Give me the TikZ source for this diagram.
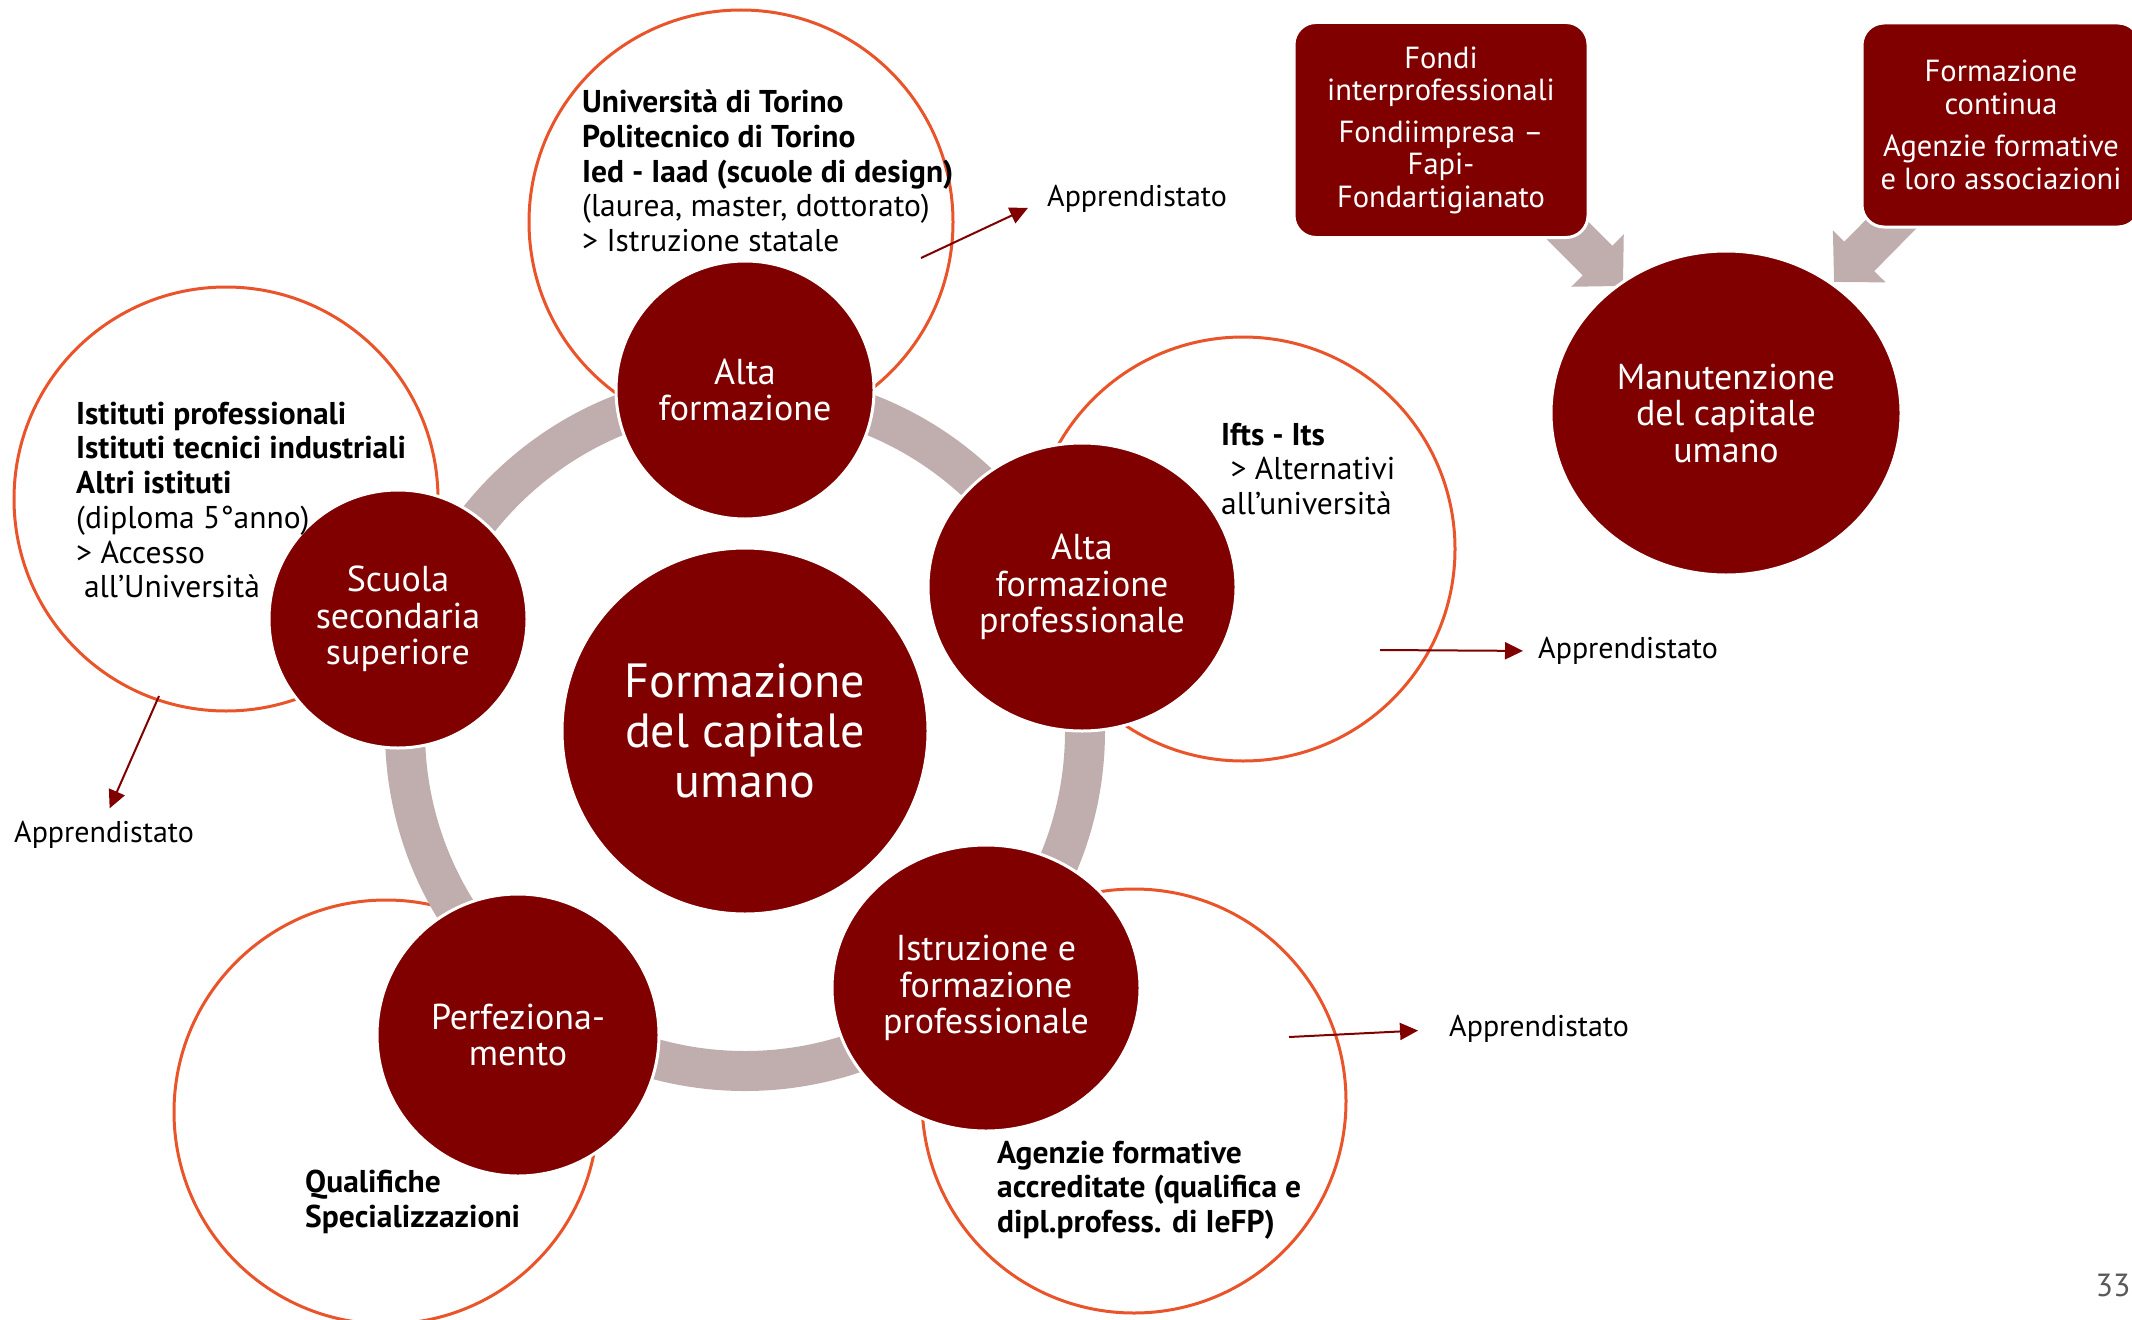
\documentclass[tikz,border=0pt]{standalone}
\usepackage{fontspec}
\setmainfont{PT Sans}
\usetikzlibrary{arrows.meta,shapes.geometric}
\definecolor{capred}{RGB}{128,0,0}
\definecolor{capgray}{RGB}{192,173,173}
\definecolor{caporange}{RGB}{233,84,42}
\tikzset{
  capdisc/.style={ellipse, fill=capred, draw=white, line width=3pt, text=white, align=center, inner sep=0pt, font=\fontsize{36}{36.5}\selectfont},
  caphalo/.style={circle, draw=caporange, line width=3pt, fill=white, inner sep=0pt, minimum size=424pt},
  capring/.style={circle, draw=capgray, line width=40pt, inner sep=0pt, minimum size=680pt},
  capbox/.style={draw=white, fill=capred, line width=3pt, rounded corners=22pt, text=white, align=center, inner sep=0pt, font=\fontsize{30.5}{32.5}\selectfont},
  capflow/.style={capgray, line width=42pt, -{Triangle[length=36pt,width=72pt]}},
  caplink/.style={capred, line width=2pt, -{Triangle[length=18pt,width=17pt]}},
  capnote/.style={anchor=west, align=left, inner sep=0pt, font=\fontsize{31.5}{34.7}\selectfont}
}

\begin{document}
\begin{tikzpicture}[x=1pt,y=-1pt]
  \useasboundingbox (0,0) rectangle (2132,1319);
  \node[caphalo] (haloA) at (741,222) {};
  \node[caphalo] (haloS) at (226,499) {};
  \node[caphalo] (haloP) at (1243,549) {};
  \node[caphalo] (haloI) at (1134,1101) {};
  \node[caphalo] (haloF) at (386,1112) {};
  \node[capring] (ring) at (745,731) {};
  \coordinate (flowAs) at (1540,203);
  \coordinate (flowAe) at (1623,286);
  \coordinate (flowBs) at (1905,210);
  \coordinate (flowBe) at (1834,282);
  \draw[capflow] (flowAs) -- (flowAe);
  \draw[capflow] (flowBs) -- (flowBe);
  \node[capbox, minimum width=294pt, minimum height=215pt] (fondi) at (1441,130)
    {Fondi\\interprofessionali\\[9pt]Fondiimpresa –\\Fapi-\\Fondartigianato};
  \node[capbox, minimum width=278pt, minimum height=204pt] (contin) at (2001,125)
    {Formazione\\continua\\[10pt]Agenzie formative\\e loro associazioni};
  \node[capdisc, minimum width=350pt, minimum height=324pt] (manut) at (1726,413) {Manutenzione\\del capitale\\umano};
  \node[capdisc, minimum size=366pt, font=\fontsize{48}{50}\selectfont] (hub) at (745,731) {Formazione\\del capitale\\umano};
  \node[capdisc, minimum size=258pt] (alta) at (745,390) {Alta\\formazione};
  \node[capdisc, minimum width=308pt, minimum height=288pt] (altaprof) at (1082,587) {Alta\\formazione\\professionale};
  \node[capdisc, minimum width=308pt, minimum height=286pt] (iefp) at (986,988) {Istruzione e\\formazione\\professionale};
  \node[capdisc, minimum size=282pt] (perf) at (518,1035) {Perfeziona-\\mento};
  \node[capdisc, minimum size=258pt] (scuola) at (398,619) {Scuola\\secondaria\\superiore};
  \node[capnote] (noteA) at (582,171) {\textbf{Università di Torino}\\\textbf{Politecnico di Torino}\\\textbf{Ied - Iaad (scuole di design)}\\(laurea, master, dottorato)\\> Istruzione statale};
  \node[capnote] (noteS) at (76,500) {\textbf{Istituti professionali}\\\textbf{Istituti tecnici industriali}\\\textbf{Altri istituti}\\(diploma 5°anno)\\> Accesso\\\hspace*{0.25em}all’Università};
  \node[capnote] (noteP) at (1221,469) {\textbf{Ifts - Its}\\\hspace*{0.3em}> Alternativi\\all’università};
  \node[capnote, font=\fontsize{31.5}{34.7}\selectfont\bfseries] (noteI) at (997,1190) {Agenzie formative\\accreditate (qualifica e\\dipl.profess. di IeFP)};
  \node[capnote, font=\fontsize{31.5}{34.7}\selectfont\bfseries] (noteF) at (305,1202) {Qualifiche\\Specializzazioni};
  \node[capnote, font=\fontsize{30}{34.7}\selectfont] (appA) at (1047,199) {Apprendistato};
  \node[capnote, font=\fontsize{30}{34.7}\selectfont] (appB) at (1538,651) {Apprendistato};
  \node[capnote, font=\fontsize{30}{34.7}\selectfont] (appC) at (1449,1029) {Apprendistato};
  \node[capnote, font=\fontsize{30}{34.7}\selectfont] (appD) at (14,835) {Apprendistato};
  \coordinate (linkA) at (921,258);
  \coordinate (linkB) at (1380,650);
  \coordinate (linkC) at (1289,1037);
  \coordinate (linkD) at (159,696);
  \draw[caplink, shorten >=21pt] (linkA) -- (appA.west);
  \draw[caplink, shorten >=15pt] (linkB) -- (appB.west);
  \draw[caplink, shorten >=31pt] (linkC) -- (appC.west);
  \draw[caplink, shorten >=14pt] (linkD) -- (appD.north);
  \node[text=black!65, font=\fontsize{32}{32}\selectfont] (page) at (2113,1285) {33};
\end{tikzpicture}
\end{document}
